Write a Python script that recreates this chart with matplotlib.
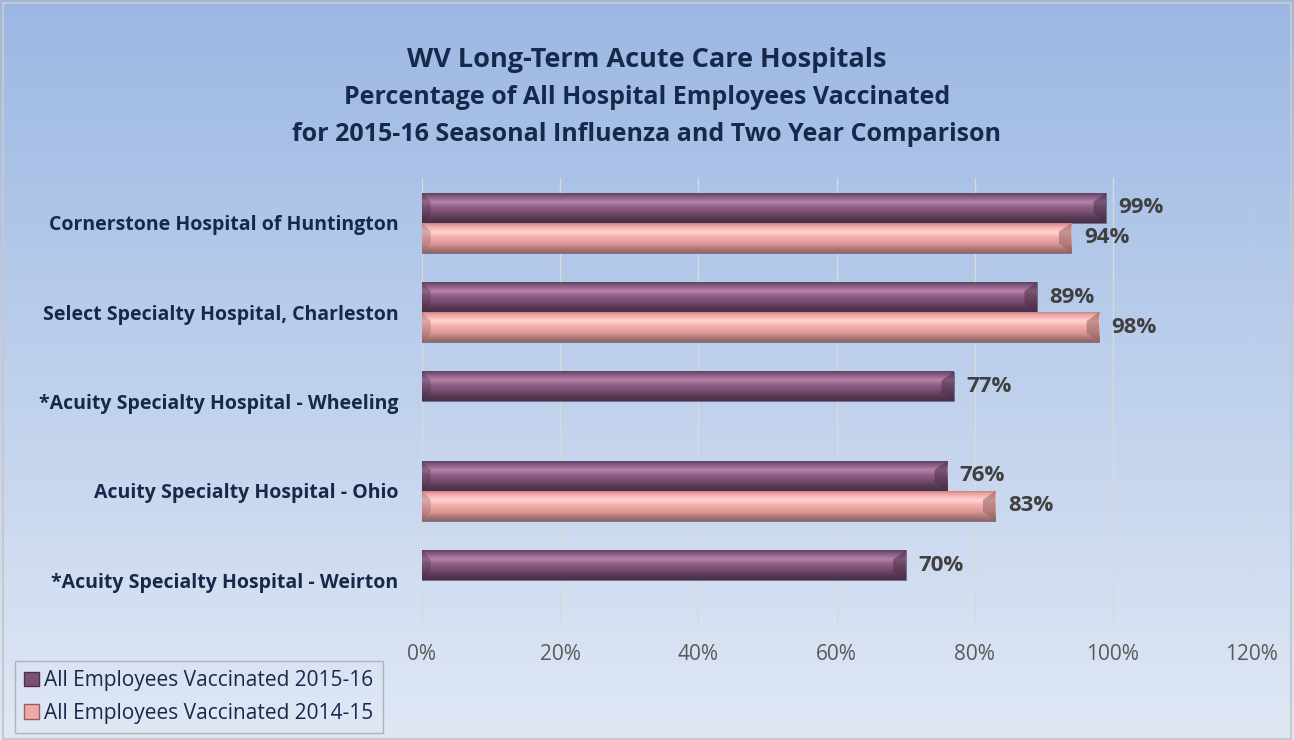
import matplotlib.pyplot as plt
from matplotlib.patches import Patch, Polygon
import numpy as np

hospitals = ['Cornerstone Hospital of Huntington', 'Select Specialty Hospital, Charleston',
             '*Acuity Specialty Hospital - Wheeling', 'Acuity Specialty Hospital - Ohio',
             '*Acuity Specialty Hospital - Weirton']
vacc_2015_16 = [0.99, 0.89, 0.77, 0.76, 0.70]
vacc_2014_15 = [0.94, 0.98, None, 0.83, None]
series_names = ['All Employees Vaccinated 2015-16', 'All Employees Vaccinated 2014-15']
title_lines = ['WV Long-Term Acute Care Hospitals',
               'Percentage of All Hospital Employees Vaccinated',
               'for 2015-16 Seasonal Influenza and Two Year Comparison']

plt.rcParams['font.family'] = ['Open Sans', 'DejaVu Sans']

fig = plt.figure(figsize=(12.94, 7.40), dpi=100)

# фон - вертикальный градиент
bg = fig.add_axes([0, 0, 1, 1], zorder=-5)
top_c = np.array([0x9b, 0xb7, 0xe3]) / 255
bot_c = np.array([0xe0, 0xe8, 0xf5]) / 255
t = np.linspace(0, 1, 256)[:, None]
grad = (top_c * (1 - t) + bot_c * t)[:, None, :]
bg.imshow(grad, aspect='auto', extent=[0, 1, 0, 1], origin='upper')
bg.add_patch(plt.Rectangle((0.002, 0.002), 0.996, 0.994, fill=False, ec='#c8c8c8', lw=1.5))
bg.set_xlim(0, 1)
bg.set_ylim(0, 1)
bg.axis('off')

ax = fig.add_axes([0.3261, 0.1554, 0.6407, 0.6041])
ax.set_facecolor('none')

y = np.arange(len(hospitals))
h = 0.335


def profile(stops):
    # цветовой профиль по высоте бара
    pos = np.array([s[0] for s in stops])
    cols = np.array([[int(s[1][i:i + 2], 16) / 255 for i in (1, 3, 5)] for s in stops])
    tt = np.linspace(0, 1, 60)
    return np.stack([np.interp(tt, pos, cols[:, k]) for k in range(3)], axis=1)[:, None, :]


purple_prof = profile([(0, '#5e4360'), (0.08, '#7c5478'), (0.3, '#b784ab'), (0.45, '#936189'),
                       (0.7, '#704869'), (0.85, '#553751'), (1, '#4a3248')])
pink_prof = profile([(0, '#c98684'), (0.08, '#eea3a1'), (0.3, '#ffd4d3'), (0.45, '#f7b2b0'),
                     (0.7, '#dd9896'), (0.85, '#b07a78'), (1, '#8f6462')])

series = [(vacc_2015_16, -h / 2, '#7c4f77', purple_prof, '#4a3248'),
          (vacc_2014_15, h / 2, '#f0a9a7', pink_prof, '#8f6462')]

for vals, off, col, prof, dark in series:
    for i, v in enumerate(vals):
        if v is None:
            continue
        yc = y[i] + off
        bar = ax.barh(yc, v, height=h, color=col, edgecolor='#6a6a8a', lw=0.6, zorder=2)[0]
        x0, y0 = bar.get_x(), bar.get_y()
        ax.imshow(prof, aspect='auto', extent=(x0, x0 + v, y0 + h, y0), origin='upper',
                  zorder=3, interpolation='bilinear')
        # скошенный торец
        d = 0.018
        ax.add_patch(Polygon([(v, y0), (v - d, y0 + h * 0.3), (v - d, y0 + h * 0.7), (v, y0 + h)],
                             closed=True, fc=dark, alpha=0.55, lw=0, zorder=4))
        ax.add_patch(Polygon([(0, y0), (d * 0.7, y0 + h * 0.3), (d * 0.7, y0 + h * 0.7), (0, y0 + h)],
                             closed=True, fc=dark, alpha=0.35, lw=0, zorder=4))
        ax.text(v + 0.018, yc, f'{v * 100:.0f}%', va='center', ha='left', fontsize=16,
                fontweight='bold', color='#404040', zorder=5)

ax.set_xlim(0, 1.2)
ax.set_ylim(len(hospitals) - 0.5, -0.5)
ax.set_xticks(np.arange(0, 1.21, 0.2))
ax.set_xticklabels([f'{int(round(x * 100))}%' for x in np.arange(0, 1.21, 0.2)])
ax.set_yticks(y)
ax.set_yticklabels(hospitals, fontsize=14, fontweight='bold', color='#17294a')
ax.tick_params(axis='x', length=0, labelsize=15, labelcolor='#595959', pad=14)
ax.tick_params(axis='y', length=0, pad=17)
ax.grid(axis='x', color='#d9d9d9', lw=1, zorder=0)
ax.set_axisbelow(True)
for s in ax.spines.values():
    s.set_visible(False)

fig.text(0.5, 0.919, title_lines[0], ha='center', va='center', fontsize=19.5,
         fontweight='bold', color='#17294a')
fig.text(0.5, 0.868, title_lines[1], ha='center', va='center', fontsize=18,
         fontweight='bold', color='#17294a')
fig.text(0.5, 0.818, title_lines[2], ha='center', va='center', fontsize=18,
         fontweight='bold', color='#17294a')

handles = [Patch(fc='#7c4f77', ec='#4a3248'), Patch(fc='#f0a9a7', ec='#8f6462')]
leg = fig.legend(handles, series_names, loc='lower left', bbox_to_anchor=(0.0116, 0.0095),
                 borderaxespad=0, fontsize=15, frameon=True, fancybox=False, handlelength=0.7,
                 handleheight=0.7, handletextpad=0.25, labelspacing=0.55, borderpad=0.45,
                 labelcolor='#17294a')
leg.get_frame().set_facecolor('none')
leg.get_frame().set_edgecolor('#a6a6a6')

fig.savefig('out.png', dpi=100)
